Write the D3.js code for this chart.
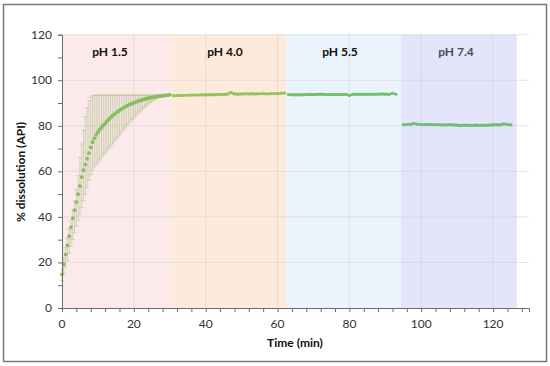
<!DOCTYPE html>
<html><head><meta charset="utf-8">
<script src="https://cdn.jsdelivr.net/npm/d3@7"></script>
<style>body{margin:0;background:#fff}svg{display:block}text{font-family:Lato,"Open Sans",sans-serif}</style>
</head><body><svg id="c" width="550" height="366"></svg>
<script>
// ---- data ----
const phases = ["pH 1.5","pH 4.0","pH 5.5","pH 7.4"];
const phaseStart = [0, 30.5, 62.5, 94.4];
const phaseEnd = [30.5, 62.5, 94.4, 126.6];
const phaseColors = ["#fce9ea","#fdeadb","#ebf4fd","#e4e4fa"];
const phaseTextColors = ["#111","#111","#111","#4a4a68"];

const t1 = [0,0.5,1,1.5,2,2.5,3,3.5,4,4.5,5,5.5,6,6.5,7,7.5,8,8.5,9,9.5,10,10.5,11,11.5,12,12.5,13,13.5,14,14.5,15,15.5,16,16.5,17,17.5,18,18.5,19,19.5,20,20.5,21,21.5,22,22.5,23,23.5,24,24.5,25,25.5,26,26.5,27,27.5,28,28.5,29,29.5,30];
const v1 = [14.8,19.2,23.5,27.5,31.5,35.5,39.5,43,46.5,50,53.5,57.5,60.5,63,65.5,68,70.5,72.8,74.5,76,77.2,78.3,79.3,80.2,81.1,82,82.8,83.6,84.3,85,85.6,86.2,86.8,87.3,87.8,88.3,88.7,89.1,89.5,89.8,90.1,90.4,90.7,91,91.2,91.5,91.7,91.9,92.1,92.3,92.5,92.6,92.8,92.9,93,93.1,93.2,93.3,93.4,93.5,93.6];
const up1 = [17,22,26.5,30.5,34.5,38.5,43,47,52,58,66,72,78,84,88,91,92.5,93.2,93.5,93.5,93.5,93.5,93.5,93.5,93.5,93.5,93.5,93.5,93.5,93.5,93.5,93.5,93.5,93.5,93.5,93.5,93.5,93.5,93.5,93.5,93.5,93.5,93.5,93.5,93.5,93.5,93.5,93.5,93.5,93.5,93.5,93.5,93.5,93.5,93.5,93.6,93.6,93.6,93.7,93.7,93.7];
const lo1 = [12,15,18,21,24,27,30,33,36,38.5,41,44,47,50,53,56,58.5,60.5,62,63,64,65,66,67,68,69,70,71,72,73,74,75,76,77,78,79,80,81,82,82.8,83.6,84.4,85.2,86,86.8,87.5,88.2,88.9,89.6,90.2,90.8,91.3,91.8,92.2,92.6,92.9,93.1,93.3,93.4,93.5,93.5];

const t2 = [31,32,33,34,35,36,37,38,39,40,41,42,43,44,45,46,47,48,49,50,51,52,53,54,55,56,57,58,59,60,61,62];
const v2 = [93.2,93.3,93.3,93.4,93.4,93.5,93.5,93.5,93.6,93.6,93.7,93.6,93.7,93.8,93.8,93.9,94.6,94.0,93.9,94.0,94.1,94.0,94.1,94.0,94.1,94.1,94.0,94.1,94.2,94.1,94.3,94.4];
const t3 = [63,64,65,66,67,68,69,70,71,72,73,74,75,76,77,78,79,80,81,82,83,84,85,86,87,88,89,90,91,92,93];
const v3 = [93.7,93.6,93.6,93.7,93.6,93.7,93.8,93.7,93.8,93.9,93.8,93.7,93.8,93.7,93.8,93.7,93.8,93.3,93.8,93.9,93.8,93.9,93.8,93.9,93.8,93.9,94.0,93.9,93.8,94.3,93.9];
const t4 = [95,96,97,98,99,100,101,102,103,104,105,106,107,108,109,110,111,112,113,114,115,116,117,118,119,120,121,122,123,124,125];
const v4 = [80.5,80.6,80.7,81.0,80.7,80.6,80.6,80.5,80.6,80.5,80.5,80.4,80.4,80.5,80.4,80.3,80.1,80.3,80.2,80.2,80.3,80.2,80.3,80.2,80.3,80.4,80.5,80.4,80.9,80.6,80.4];

const xTicks = [0,20,40,60,80,100,120];
const yTicks = [0,20,40,60,80,100,120];

// ---- drawing ----
const svg = d3.select("#c");
const x = d3.scaleLinear().domain([0,130]).range([62,529]);
const y = d3.scaleLinear().domain([0,120]).range([308,34.7]);

svg.append("rect").attr("x",3.5).attr("y",4.5).attr("width",543).attr("height",357)
  .attr("fill","#fff").attr("stroke","#7a7a7a").attr("stroke-width",1.5);

// bands
svg.selectAll(".band").data(phases).enter().append("rect")
  .attr("x",(d,i)=>x(phaseStart[i])).attr("width",(d,i)=>x(phaseEnd[i])-x(phaseStart[i]))
  .attr("y",y(120)).attr("height",y(0)-y(120)).attr("fill",(d,i)=>phaseColors[i]);

// gridlines
const g = svg.append("g").attr("stroke","#d6d6d6").attr("stroke-width",0.8).attr("opacity",0.8);
yTicks.filter(d=>d>0).forEach(d=>g.append("line").attr("x1",x(0)).attr("x2",x(130)).attr("y1",y(d)).attr("y2",y(d)));
xTicks.filter(d=>d>0).forEach(d=>g.append("line").attr("x1",x(d)).attr("x2",x(d)).attr("y1",y(0)).attr("y2",y(120)));

// phase labels
svg.selectAll(".pl").data(phases).enter().append("text")
  .attr("x",(d,i)=>[110,225,340,456][i]).attr("y",56).attr("text-anchor","middle")
  .attr("font-size",12).attr("font-weight","bold").attr("fill",(d,i)=>phaseTextColors[i]).text(d=>d);

// error bars
const eb = svg.append("g").attr("stroke","#bcc49c").attr("stroke-width",0.7);
t1.forEach((t,i)=>{
  const cx = x(t);
  eb.append("line").attr("x1",cx).attr("x2",cx).attr("y1",y(up1[i])).attr("y2",y(lo1[i]));
  eb.append("line").attr("x1",cx-2).attr("x2",cx+2).attr("y1",y(up1[i])).attr("y2",y(up1[i]));
  eb.append("line").attr("x1",cx-2).attr("x2",cx+2).attr("y1",y(lo1[i])).attr("y2",y(lo1[i]));
});

// series
svg.append("g").selectAll("circle").data(t1).enter().append("circle")
  .attr("cx",d=>x(d)).attr("cy",(d,i)=>y(v1[i])).attr("r",1.9).attr("fill","#86bf5e");
const line = d3.line().x(d=>x(d[0])).y(d=>y(d[1]));
[[t2,v2,"#93c35c"],[t3,v3,"#73c072"],[t4,v4,"#6fbf73"]].forEach(([tt,vv,c])=>{
  const pts = tt.map((t,i)=>[t,vv[i]]);
  svg.append("path").attr("d",line(pts)).attr("fill","none").attr("stroke",c).attr("stroke-width",2.6);
  svg.append("g").selectAll("circle").data(pts).enter().append("circle")
    .attr("cx",d=>x(d[0])).attr("cy",d=>y(d[1])).attr("r",1.5).attr("fill",c);
});

// axes
const xAxis = svg.append("g").attr("transform",`translate(0,${y(0)})`)
  .call(d3.axisBottom(x).tickValues(d3.range(0,131,4)).tickSize(4).tickFormat(""));
xAxis.select(".domain").attr("stroke","#6b6b6b");
xAxis.selectAll(".tick line").attr("stroke","#6b6b6b");
svg.append("g").selectAll("text").data(xTicks).enter().append("text")
  .attr("x",d=>x(d)).attr("y",328).attr("text-anchor","middle").attr("font-size",12).attr("fill","#333").text(d=>d);

const yAxis = svg.append("g").attr("transform",`translate(${x(0)},0)`)
  .call(d3.axisLeft(y).tickValues(d3.range(0,121,10)).tickSize(4).tickFormat(""));
yAxis.select(".domain").attr("stroke","#6b6b6b");
yAxis.selectAll(".tick line").attr("stroke","#6b6b6b");
svg.append("g").selectAll("text").data(yTicks).enter().append("text")
  .attr("x",52).attr("y",d=>y(d)+4).attr("text-anchor","end").attr("font-size",12).attr("fill","#333").text(d=>d);

svg.append("text").attr("x",295).attr("y",347).attr("text-anchor","middle")
  .attr("font-size",12).attr("font-weight","bold").attr("fill","#111").text("Time (min)");
svg.append("text").attr("transform","translate(25,172) rotate(-90)").attr("text-anchor","middle")
  .attr("font-size",12).attr("font-weight","bold").attr("fill","#111").text("% dissolution (API)");
</script></body></html>
